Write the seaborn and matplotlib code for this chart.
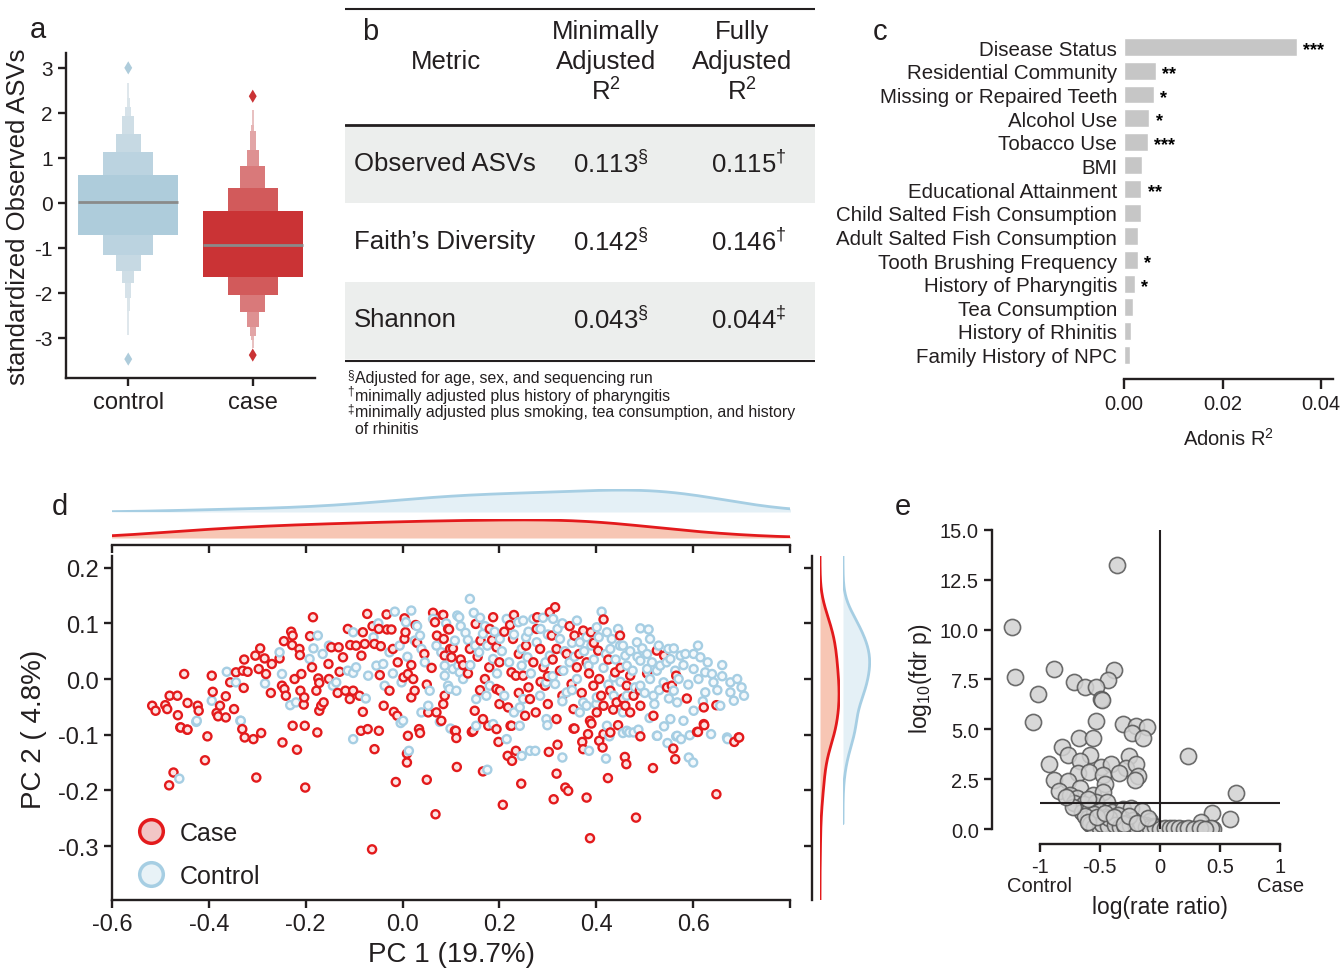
import numpy as np
import pandas as pd
import seaborn as sns
import matplotlib.pyplot as plt
from matplotlib.lines import Line2D

# ---------------- panel a: standardized observed ASVs (sorted samples, 129 per group)
asv_control = [
    -3.47, -2.41, -2.11, -1.95, -1.79, -1.72, -1.65, -1.58, -1.52,
    -1.47, -1.42, -1.37, -1.32, -1.27, -1.23, -1.19, -1.16,
    -1.13, -1.10, -1.07, -1.04, -1.01, -0.98, -0.95, -0.92, -0.89, -0.86, -0.84, -0.82, -0.80, -0.77, -0.75,
    -0.72,
    -0.69, -0.67, -0.65, -0.62, -0.60, -0.58, -0.55, -0.53, -0.51, -0.48, -0.46, -0.44, -0.41, -0.39, -0.37,
    -0.35, -0.32, -0.30, -0.28, -0.25, -0.23, -0.21, -0.18, -0.16, -0.14, -0.12, -0.10, -0.08, -0.05, -0.03, -0.01,
    0.015,
    0.04, 0.06, 0.08, 0.10, 0.12, 0.14, 0.16, 0.18, 0.20, 0.22, 0.24, 0.26, 0.28, 0.30, 0.32, 0.34,
    0.36, 0.38, 0.40, 0.42, 0.44, 0.46, 0.48, 0.50, 0.52, 0.54, 0.55, 0.57, 0.58, 0.60, 0.61,
    0.63,
    0.66, 0.69, 0.72, 0.75, 0.78, 0.81, 0.84, 0.87, 0.90, 0.93, 0.96, 0.99, 1.03, 1.06, 1.09,
    1.12,
    1.17, 1.22, 1.27, 1.32, 1.37, 1.42, 1.47,
    1.52, 1.62, 1.73, 1.84, 1.94, 2.03, 2.12, 2.33, 3.00,
]
asv_case = [
    -3.38, -3.05, -2.96, -2.86, -2.76, -2.67, -2.58, -2.50, -2.42,
    -2.37, -2.32, -2.27, -2.22, -2.17, -2.13, -2.09, -2.05,
    -2.02, -1.99, -1.96, -1.94, -1.91, -1.88, -1.86, -1.83, -1.80, -1.78, -1.75, -1.72, -1.70, -1.68, -1.66,
    -1.64,
    -1.62, -1.60, -1.58, -1.56, -1.53, -1.51, -1.49, -1.47, -1.45, -1.42, -1.40, -1.38, -1.36, -1.34, -1.31,
    -1.29, -1.27, -1.25, -1.23, -1.20, -1.18, -1.16, -1.14, -1.12, -1.09, -1.07, -1.05, -1.03, -1.01, -0.99, -0.96,
    -0.94,
    -0.92, -0.89, -0.87, -0.85, -0.82, -0.80, -0.78, -0.75, -0.73, -0.71, -0.68, -0.66, -0.64, -0.61, -0.59,
    -0.57, -0.54, -0.52, -0.50, -0.47, -0.45, -0.43, -0.40, -0.38, -0.36, -0.33, -0.31, -0.29, -0.26, -0.24, -0.21,
    -0.19,
    -0.16, -0.13, -0.09, -0.06, -0.03, 0.00, 0.04, 0.07, 0.10, 0.13, 0.17, 0.20, 0.24, 0.27, 0.31,
    0.34,
    0.40, 0.46, 0.52, 0.58, 0.65, 0.71, 0.77,
    0.83, 0.91, 1.00, 1.09, 1.17, 1.38, 1.59, 1.74, 2.37,
]

# ---------------- panel b: table
metrics = ["Observed ASVs", "Faith\u2019s Diversity", "Shannon"]
min_adj = ["0.113", "0.142", "0.043"]
min_mark = [r"\S", r"\S", r"\S"]
full_adj = ["0.115", "0.146", "0.044"]
full_mark = [r"\dagger", r"\dagger", r"\ddagger"]
note_marks = ["\u00a7", "\u2020", "\u2021", ""]
footnotes = [
    "Adjusted for age, sex, and sequencing run",
    "minimally adjusted plus history of pharyngitis",
    "minimally adjusted plus smoking, tea consumption, and history",
    "of rhinitis",
]

# ---------------- panel c: adonis R2
factors = ["Disease Status", "Residential Community", "Missing or Repaired Teeth",
           "Alcohol Use", "Tobacco Use", "BMI", "Educational Attainment",
           "Child Salted Fish Consumption", "Adult Salted Fish Consumption",
           "Tooth Brushing Frequency", "History of Pharyngitis", "Tea Consumption",
           "History of Rhinitis", "Family History of NPC"]
adonis_r2 = [0.0351, 0.0064, 0.0060, 0.0051, 0.0048, 0.0037, 0.0035,
             0.0034, 0.0029, 0.0028, 0.0022, 0.0018, 0.0014, 0.0012]
stars = ["***", "**", "*", "*", "***", "", "**", "", "", "*", "*", "", "", ""]

# ---------------- panel d: PCoA (PC1, PC2)
case_pc = [
    (-0.517, -0.048), (-0.510, -0.057), (-0.490, -0.047), (-0.486, -0.054), (-0.481, -0.030), (-0.465, -0.030),
    (-0.464, -0.065), (-0.444, -0.043), (-0.423, -0.048), (-0.421, -0.057), (-0.458, -0.087), (-0.444, -0.091),
    (-0.451, 0.009), (-0.394, 0.006), (-0.392, -0.023), (-0.384, -0.061), (-0.381, -0.067), (-0.377, -0.048),
    (-0.365, -0.031), (-0.365, -0.069), (-0.348, -0.054), (-0.356, -0.006), (-0.344, 0.012), (-0.330, 0.015),
    (-0.320, 0.013), (-0.328, -0.016), (-0.327, 0.035), (-0.304, 0.042), (-0.294, 0.055), (-0.297, 0.018),
    (-0.285, 0.037), (-0.282, 0.009), (-0.270, 0.027), (-0.272, -0.025), (-0.254, 0.037), (-0.249, -0.012),
    (-0.244, -0.018), (-0.241, -0.030), (-0.230, 0.085), (-0.227, 0.078), (-0.228, 0.061), (-0.245, 0.068),
    (-0.213, 0.054), (-0.212, 0.043), (-0.223, 0.000), (-0.209, 0.009), (-0.211, -0.021), (-0.203, -0.033),
    (-0.204, -0.046), (-0.185, 0.111), (-0.191, 0.077), (-0.187, 0.021), (-0.174, 0.001), (-0.178, -0.021),
    (-0.172, -0.007), (-0.168, -0.048), (-0.172, -0.057), (-0.163, -0.042), (-0.153, 0.027), (-0.152, 0.000),
    (-0.147, 0.057), (-0.132, 0.057), (-0.130, 0.013), (-0.134, -0.025), (-0.123, 0.039), (-0.108, 0.061),
    (-0.113, 0.090), (-0.102, -0.021), (-0.118, -0.021), (-0.109, -0.036), (-0.096, 0.060), (-0.082, 0.084),
    (-0.078, 0.063), (-0.085, 0.042), (-0.082, -0.059), (-0.089, -0.030), (-0.073, 0.117), (-0.062, 0.095),
    (-0.058, 0.063), (-0.045, 0.059), (-0.049, 0.090), (-0.047, 0.007), (-0.039, -0.048), (-0.033, 0.116),
    (-0.032, 0.089), (-0.023, 0.089), (-0.020, 0.054), (-0.027, -0.021), (-0.018, -0.059), (-0.011, -0.066),
    (0.004, 0.109), (0.006, 0.084), (0.004, 0.072), (0.002, 0.003), (0.011, 0.009), (0.018, 0.025),
    (0.022, 0.000), (0.025, -0.021), (0.018, -0.033), (0.027, 0.097), (0.053, -0.060), (0.063, 0.119),
    (0.067, 0.102), (0.071, 0.078), (0.084, 0.115), (0.094, 0.090), (0.070, -0.060), (0.080, -0.075),
    (0.084, -0.045), (0.098, 0.054), (0.101, 0.039), (0.087, -0.030),
    (0.083, 0.115), (0.096, 0.089), (0.085, 0.072), (0.104, 0.055), (0.087, 0.042), (0.125, 0.025),
    (0.139, 0.054), (0.151, 0.099), (0.161, 0.069), (0.187, 0.111), (0.180, 0.090), (0.179, 0.021),
    (0.194, 0.057), (0.194, -0.018), (0.201, -0.021), (0.222, 0.097), (0.230, 0.115), (0.228, 0.072),
    (0.225, 0.012), (0.234, 0.006), (0.249, 0.006), (0.260, -0.015), (0.263, -0.036), (0.278, 0.111),
    (0.277, 0.090), (0.284, 0.054), (0.291, 0.021), (0.294, -0.012), (0.304, 0.120), (0.315, 0.129),
    (0.308, 0.078), (0.318, 0.054), (0.339, 0.045), (0.349, -0.009), (0.353, -0.054), (0.355, 0.078),
    (0.360, 0.021), (0.373, 0.087), (0.389, 0.084), (0.380, 0.030), (0.394, -0.012), (0.404, 0.051),
    (0.406, 0.000), (0.415, 0.107), (0.415, -0.048), (0.401, -0.060), (0.429, -0.021), (0.439, 0.012),
    (0.449, 0.078), (0.442, -0.042), (0.460, -0.048), (0.463, -0.012), (0.470, 0.006), (0.477, -0.030),
    (0.491, -0.048), (0.518, -0.066), (0.525, 0.051), (0.540, 0.042), (0.546, -0.015), (0.556, -0.012),
    (0.565, 0.006), (0.587, -0.035), (0.622, -0.051), (0.648, -0.047), (0.353, -0.089), (0.387, -0.075),
    (0.429, -0.096), (0.608, -0.095), (0.622, -0.081), (0.694, -0.105), (0.149, -0.057), (0.166, -0.072),
    (0.218, -0.051), (0.225, -0.084), (0.253, -0.066), (0.318, -0.072), (0.146, -0.093), (0.108, -0.093),
    (-0.459, -0.087), (-0.445, -0.091), (-0.403, -0.103), (-0.408, -0.146), (-0.473, -0.168), (-0.482, -0.191),
    (-0.331, -0.090), (-0.326, -0.105), (-0.308, -0.108), (-0.292, -0.097), (-0.302, -0.177), (-0.248, -0.114),
    (-0.227, -0.084), (-0.218, -0.127), (-0.202, -0.084), (-0.201, -0.195), (-0.176, -0.096), (-0.086, -0.093),
    (-0.072, -0.090), (-0.049, -0.093), (-0.058, -0.126), (-0.063, -0.306), (-0.014, -0.185), (0.009, -0.150),
    (0.011, -0.102), (0.009, -0.134), (0.036, -0.097), (0.034, -0.090), (0.050, -0.181), (0.068, -0.243),
    (0.110, -0.093), (0.111, -0.106), (0.112, -0.158), (0.143, -0.095), (0.166, -0.166), (0.177, -0.084),
    (0.194, -0.090), (0.198, -0.113), (0.207, -0.226), (0.217, -0.138), (0.226, -0.147), (0.234, -0.129),
    (0.245, -0.188), (0.223, -0.084), (0.302, -0.131), (0.312, -0.216), (0.318, -0.170), (0.320, -0.118),
    (0.336, -0.195), (0.342, -0.201), (0.355, -0.089), (0.371, -0.113), (0.373, -0.126), (0.380, -0.213),
    (0.383, -0.099), (0.387, -0.286), (0.390, -0.080), (0.406, -0.111), (0.413, -0.123), (0.415, -0.099),
    (0.424, -0.178), (0.445, -0.083), (0.459, -0.140), (0.462, -0.153), (0.482, -0.249), (0.491, -0.103),
    (0.517, -0.160), (0.559, -0.125), (0.563, -0.144), (0.610, -0.095), (0.623, -0.083), (0.648, -0.207),
    (0.685, -0.113), (0.695, -0.105),
    (0.120, 0.035), (0.135, 0.010), (0.155, 0.040), (0.170, 0.000), (0.185, 0.070), (0.200, 0.030),
    (0.210, 0.085), (0.240, 0.045), (0.255, 0.060), (0.270, 0.030), (0.285, -0.005), (0.300, 0.005),
    (0.310, 0.035), (0.325, 0.015), (0.330, -0.030), (0.345, 0.095), (0.365, 0.045), (0.370, -0.025),
    (0.385, 0.010), (0.395, 0.065), (0.410, -0.030), (0.425, 0.035), (0.435, -0.055), (0.450, 0.020),
    (0.455, -0.035), (0.470, -0.060), (0.490, -0.020), (0.505, 0.010), (0.160, -0.020), (0.200, -0.045),
    (0.240, -0.025), (0.275, -0.060), (0.300, -0.045), (0.045, 0.045), (0.060, 0.020), (0.030, 0.065),
    (-0.010, 0.030), (0.050, -0.010),
]
control_pc = [
    (-0.425, -0.075), (-0.394, -0.039), (-0.363, 0.013), (-0.344, -0.006), (-0.334, -0.075), (-0.284, -0.008),
    (-0.254, 0.048), (-0.249, 0.009), (-0.232, -0.047), (-0.220, -0.042), (-0.192, 0.036), (-0.175, 0.078),
    (-0.184, 0.055), (-0.165, 0.045), (-0.152, 0.060), (-0.144, -0.012), (-0.137, -0.006), (-0.113, 0.015),
    (-0.102, 0.011), (-0.096, 0.021), (-0.102, 0.084), (-0.076, -0.035), (-0.071, 0.006), (-0.060, 0.075),
    (-0.054, 0.024), (-0.040, 0.027), (-0.037, -0.012), (-0.027, 0.048), (-0.016, 0.121), (-0.006, 0.060),
    (-0.002, -0.006), (0.001, -0.075), (0.007, 0.102), (0.018, 0.123), (0.025, 0.069), (0.036, 0.078),
    (0.039, 0.054), (0.046, 0.030), (0.056, -0.021), (0.063, 0.108), (0.080, 0.048), (0.087, 0.024),
    (0.094, -0.012), (0.108, 0.069), (0.113, 0.114), (0.115, 0.024), (0.111, -0.021), (0.053, -0.048),
    (0.039, -0.060),
    (0.139, 0.144), (0.117, 0.111), (0.147, 0.119), (0.130, 0.083), (0.166, 0.081), (0.158, 0.048),
    (0.187, 0.036), (0.201, 0.072), (0.215, 0.108), (0.239, 0.102), (0.249, 0.105), (0.246, 0.054),
    (0.246, 0.024), (0.258, 0.039), (0.270, 0.108), (0.277, 0.066), (0.304, 0.042), (0.311, 0.108),
    (0.325, 0.072), (0.315, -0.009), (0.332, 0.015), (0.339, -0.024), (0.360, 0.105), (0.366, 0.066),
    (0.384, 0.024), (0.373, -0.042), (0.411, 0.121), (0.401, 0.093), (0.422, 0.084), (0.432, 0.072),
    (0.429, 0.054), (0.449, 0.060), (0.460, 0.042), (0.436, 0.003), (0.463, 0.024), (0.484, 0.066),
    (0.491, 0.091), (0.508, 0.089), (0.511, 0.072), (0.491, 0.033), (0.505, 0.018), (0.511, 0.000),
    (0.529, 0.060), (0.532, 0.024), (0.539, -0.006), (0.549, 0.054), (0.553, 0.036), (0.563, 0.015),
    (0.574, 0.042), (0.584, 0.045), (0.601, 0.045), (0.615, 0.039), (0.601, 0.018), (0.611, 0.000),
    (0.625, 0.012), (0.639, 0.009), (0.642, -0.006), (0.660, 0.025), (0.677, -0.006), (0.691, 0.000),
    (0.677, -0.024), (0.684, -0.039), (0.625, -0.024), (0.601, -0.057), (0.656, -0.048), (0.560, -0.021),
    (0.567, -0.042), (0.553, -0.072), (0.518, -0.030), (0.491, -0.012), (0.463, -0.030), (0.436, -0.030),
    (0.401, -0.033), (0.380, -0.048), (0.366, -0.060), (0.297, -0.006), (0.284, -0.030), (0.249, -0.036),
    (0.242, -0.051), (0.180, -0.012), (0.173, -0.030), (0.152, -0.036), (0.118, 0.012), (0.104, 0.018),
    (0.087, 0.006), (0.097, -0.018), (0.187, -0.081), (0.242, -0.084), (0.297, -0.072), (0.463, -0.093),
    (0.477, -0.096), (0.525, -0.102), (0.567, -0.102), (0.670, -0.105), (0.215, -0.108), (0.422, -0.084),
    (-0.461, -0.179), (-0.426, -0.077), (-0.335, -0.075), (-0.102, -0.108), (-0.004, -0.079), (0.013, -0.129),
    (0.077, -0.077), (0.099, -0.089), (0.152, -0.084), (0.175, -0.163), (0.246, -0.138), (0.263, -0.129),
    (0.274, -0.129), (0.299, -0.083), (0.330, -0.141), (0.385, -0.129), (0.420, -0.143), (0.427, -0.103),
    (0.455, -0.097), (0.468, -0.096), (0.487, -0.091), (0.526, -0.102), (0.547, -0.115), (0.565, -0.103),
    (0.575, -0.108), (0.593, -0.101), (0.591, -0.141), (0.600, -0.150), (0.637, -0.099), (0.671, -0.108),
    (0.120, 0.095), (0.135, 0.070), (0.150, 0.060), (0.170, 0.095), (0.190, 0.085), (0.205, 0.050),
    (0.220, 0.030), (0.230, 0.080), (0.255, 0.075), (0.265, 0.010), (0.285, 0.090), (0.295, 0.030),
    (0.300, 0.080), (0.320, 0.090), (0.335, 0.050), (0.345, 0.030), (0.350, 0.065), (0.360, 0.000),
    (0.375, 0.050), (0.390, 0.060), (0.395, 0.035), (0.405, 0.075), (0.415, 0.020), (0.420, 0.045),
    (0.425, -0.010), (0.440, 0.035), (0.445, 0.090), (0.450, -0.005), (0.455, 0.060), (0.470, 0.050),
    (0.475, 0.015), (0.480, -0.015), (0.485, 0.040), (0.495, 0.055), (0.500, -0.025), (0.505, 0.045),
    (0.515, 0.030), (0.520, -0.045), (0.525, 0.015), (0.530, -0.020), (0.545, 0.030), (0.550, -0.035),
    (0.560, 0.055), (0.570, 0.000), (0.580, 0.025), (0.590, -0.010), (0.610, 0.060), (0.620, -0.040),
    (0.630, 0.030), (0.650, -0.020), (0.660, 0.005), (0.700, -0.015), (0.705, -0.030), (0.330, -0.040),
    (0.350, -0.020), (0.400, -0.045), (0.455, -0.060), (0.510, -0.070), (0.540, -0.085), (0.580, -0.075),
    (-0.050, 0.100), (-0.020, 0.010), (0.010, 0.040), (0.030, 0.095), (0.070, 0.060), (0.090, 0.100),
    (0.100, 0.040), (0.125, 0.000), (0.140, 0.025), (0.160, 0.110), (0.175, 0.060), (0.195, 0.010),
    (0.210, -0.030), (0.230, -0.060), (0.260, 0.085), (0.290, 0.110), (0.310, 0.005), (0.330, 0.100),
    (0.355, 0.040), (0.380, 0.075),
]

# ---------------- panel e: volcano
log_rate_ratio = [
    -0.36, -1.23, -1.20, -0.88, -0.38, -0.43, -0.71, -0.62, -0.53, -0.49, -0.48, -1.01, -1.05, -0.53,
    -0.31, -0.20, -0.11, -0.23, -0.14, -0.67, -0.56, -0.81, -0.76, -0.58, -0.26, 0.23, -0.92, -0.66,
    -0.49, -0.41, -0.28, -0.20, -0.68, -0.59, -0.47, -0.34, -0.18, -0.21, -0.88, -0.76, -0.46, -0.84,
    -0.66, 0.63, -0.75, -0.69, -0.56, -0.47, -0.71, -0.63, -0.53, -0.44, -0.65, -0.58, -0.50, -0.40,
    -0.31, -0.24, -0.15, 0.43, 0.58, 0.34, -0.56, -0.47, -0.39, -0.31, -0.22, -0.08, -0.51, -0.45,
    -0.40, -0.35, -0.31, -0.27, -0.22, -0.18, -0.14, -0.10, -0.06, -0.02, 0.02, 0.06, 0.10, 0.14,
    0.18, 0.21, 0.25, 0.40, 0.44, 0.42, -0.60, -0.55, -0.62, -0.52, -0.58, -0.45, -0.35, -0.28,
    -0.12, -0.05, -0.72, -0.78, -0.60,
    -0.55, -0.50, -0.48, -0.43, -0.42, -0.37, -0.33, -0.29, -0.25, -0.20, -0.16, -0.12, -0.08, -0.04,
    0.00, 0.04, 0.08, 0.12, 0.16, 0.20, 0.23, -0.60, -0.52, -0.46, -0.38, -0.30, -0.26, -0.19, -0.10,
    0.28, 0.33, 0.37,
]
log10_fdr = [
    13.22, 10.15, 7.65, 8.05, 8.00, 7.46, 7.36, 7.13, 7.13, 6.54, 6.48, 6.79, 5.38, 5.44,
    5.29, 5.18, 5.13, 4.84, 4.57, 4.57, 4.57, 4.12, 3.71, 3.71, 3.67, 3.67, 3.24, 3.41,
    3.12, 3.24, 3.04, 3.24, 2.80, 2.85, 2.72, 2.80, 2.64, 2.47, 2.45, 2.39, 2.27, 1.90,
    2.04, 1.79, 1.70, 1.54, 1.70, 1.87, 1.30, 1.25, 1.34, 1.37, 0.87, 1.00, 0.92, 0.87,
    1.00, 1.03, 0.92, 0.80, 0.50, 0.33, 0.42, 0.33, 0.42, 0.50, 0.47, 0.42, 0.03, 0.02,
    0.00, 0.01, 0.00, 0.02, 0.00, 0.01, 0.00, 0.02, 0.00, 0.01, 0.00, 0.01, 0.00, 0.02,
    0.00, 0.01, 0.00, 0.02, 0.00, 0.03, 0.55, 0.75, 0.65, 0.20, 0.25, 0.60, 0.70, 0.30,
    0.20, 0.15, 1.10, 1.60, 1.50,
    0.10, 0.05, 0.25, 0.15, 0.55, 0.20, 0.10, 0.12, 0.20, 0.15, 0.25, 0.10, 0.05, 0.08,
    0.02, 0.05, 0.03, 0.06, 0.04, 0.02, 0.05, 0.35, 0.60, 0.80, 0.60, 0.25, 0.65, 0.30, 0.55,
    0.02, 0.03, 0.02,
]
fdr_threshold = 1.3

RED = "#e31a1c"
BLUE = "#a6cee3"
INK = "#231f20"
W, H = 1344, 970

sns.set_theme(style="ticks")
plt.rcParams.update({
    "font.family": ["Liberation Sans", "DejaVu Sans"],
    "axes.unicode_minus": False,
    "mathtext.fontset": "custom",
    "mathtext.rm": "Liberation Sans",
    "mathtext.it": "Liberation Sans:italic",
    "mathtext.bf": "Liberation Sans:bold",
    "axes.linewidth": 1.7,
    "axes.edgecolor": INK,
    "xtick.major.width": 1.7,
    "ytick.major.width": 1.7,
    "xtick.major.size": 6,
    "ytick.major.size": 6,
    "xtick.color": INK,
    "ytick.color": INK,
    "text.color": INK,
    "axes.labelcolor": INK,
})

fig = plt.figure(figsize=(W / 100, H / 100), dpi=100)


def rect(left, top, right, bottom):
    return [left / W, 1 - bottom / H, (right - left) / W, (bottom - top) / H]


# ======== a
ax_a = fig.add_axes(rect(66, 54, 315, 379))
df_a = pd.DataFrame({
    "group": ["control"] * len(asv_control) + ["case"] * len(asv_case),
    "value": asv_control + asv_case,
})
for grp, col in [("control", BLUE), ("case", RED)]:
    sns.boxenplot(data=df_a[df_a.group == grp], x="group", y="value", order=["control", "case"],
                  color=col, k_depth=7, width=0.8, linewidth=0,
                  line_kws=dict(color="#8a8a8a", linewidth=2),
                  flier_kws=dict(marker="d", s=45, facecolor=sns.desaturate(col, 0.75), edgecolor="none"),
                  ax=ax_a)
ax_a.set_xlim(-0.5, 1.5)
ax_a.set_ylim(-3.89, 3.33)
ax_a.set_yticks([-3, -2, -1, 0, 1, 2, 3])
ax_a.set_xlabel("")
ax_a.set_ylabel("standardized Observed ASVs", fontsize=18.5, labelpad=3)
ax_a.tick_params(axis="y", labelsize=15)
ax_a.tick_params(axis="x", labelsize=17)
sns.despine(ax=ax_a)

# ======== b
ax_b = fig.add_axes(rect(345, 0, 815, 450))
ax_b.set_xlim(0, 470)
ax_b.set_ylim(450, 0)
ax_b.axis("off")
for i in (0, 2):
    ax_b.fill_between([0, 470], 127 + 78 * i, 204 + 78 * i, color="#eceeed", linewidth=0)
ax_b.plot([0, 470], [10, 10], color=INK, lw=1.5)
ax_b.plot([0, 470], [126, 126], color=INK, lw=2)
ax_b.plot([0, 470], [362, 362], color=INK, lw=1.5)
hdr = dict(fontsize=18.5, ha="center", va="center")
ax_b.text(101, 62, "Metric", **hdr)
for cx, word in [(261, "Minimally"), (397, "Fully")]:
    ax_b.text(cx, 32, word, **hdr)
    ax_b.text(cx, 62, "Adjusted", **hdr)
    ax_b.text(cx, 92, "R$^{2}$", **hdr)
for i, m in enumerate(metrics):
    y = 164 + 78 * i
    ax_b.text(9, y, m, fontsize=18.5, ha="left", va="center")
    ax_b.text(228, y, min_adj[i] + "$^{" + min_mark[i] + "}$", fontsize=18.5, ha="left", va="center")
    ax_b.text(366, y, full_adj[i] + "$^{" + full_mark[i] + "}$", fontsize=18.5, ha="left", va="center")
for i, (mark, note) in enumerate(zip(note_marks, footnotes)):
    y = 379 + 17 * i
    if mark:
        ax_b.text(2, y - 4, mark, fontsize=8.5, ha="left", va="center")
    ax_b.text(10, y, note, fontsize=11.4, ha="left", va="center")

# ======== c
ax_c = fig.add_axes(rect(1124, 34, 1333, 380))
sns.barplot(x=adonis_r2, y=factors, color="#c6c6c6", saturation=1, width=0.76, orient="h", ax=ax_c)
for i, (v, s) in enumerate(zip(adonis_r2, stars)):
    if s:
        ax_c.text(v + 0.0013, i + 0.12, s, fontsize=13, fontweight="bold", ha="left", va="center", color="black")
ax_c.set_xlim(0, 0.0424)
ax_c.set_ylim(14.03, -0.6)
ax_c.set_xticks([0, 0.02, 0.04])
ax_c.set_xticklabels(["0.00", "0.02", "0.04"])
ax_c.tick_params(axis="x", labelsize=14.5, length=7)
ax_c.tick_params(axis="y", labelsize=14.8, length=0, pad=5)
ax_c.set_xlabel("Adonis R$^{2}$", fontsize=14.5, labelpad=10)
ax_c.set_ylabel("")
sns.despine(ax=ax_c, left=True)

# ======== d
df_d = pd.DataFrame(case_pc + control_pc, columns=["pc1", "pc2"])
df_d["status"] = ["Case"] * len(case_pc) + ["Control"] * len(control_pc)
df_d = df_d.sort_values("pc1", kind="stable")
ax_d = fig.add_axes(rect(112, 557, 790, 901))
sns.scatterplot(data=df_d, x="pc1", y="pc2", hue="status", palette={"Case": RED, "Control": BLUE},
                s=34, linewidth=0, legend=False, ax=ax_d)
pts = ax_d.collections[-1]
edge = pts.get_facecolors()
pts.set_edgecolors(edge)
light = edge.copy()
light[:, :3] = edge[:, :3] * 0.12 + 0.88
pts.set_facecolors(light)
pts.set_linewidths(1.7)
ax_d.set_xlim(-0.6, 0.8)
ax_d.set_ylim(-0.397, 0.221)
xt = [-0.6, -0.4, -0.2, 0.0, 0.2, 0.4, 0.6, 0.8]
ax_d.set_xticks(xt)
ax_d.set_xticklabels([f"{t:.1f}" for t in xt[:-1]] + [""])
yt = [-0.3, -0.2, -0.1, 0.0, 0.1, 0.2]
ax_d.set_yticks(yt)
ax_d.set_yticklabels([f"{t:.1f}" for t in yt])
ax_d.tick_params(labelsize=17)
ax_d.set_xlabel("PC 1 (19.7%)", fontsize=20, labelpad=4)
ax_d.set_ylabel("PC 2 ( 4.8%)", fontsize=20, labelpad=8)
sns.despine(ax=ax_d)

handles = [Line2D([], [], ls="", marker="o", ms=17, mfc="#f2c6c6", mec=RED, mew=2.5),
           Line2D([], [], ls="", marker="o", ms=17, mfc="#e8f2f7", mec=BLUE, mew=2.5)]
ax_d.legend(handles, ["Case", "Control"], loc="lower left", bbox_to_anchor=(0.006, 0.006),
            frameon=False, fontsize=18, handletextpad=0.15, labelspacing=0.75, borderaxespad=0.0)

case_x = [p[0] for p in case_pc]
case_y = [p[1] for p in case_pc]
ctrl_x = [p[0] for p in control_pc]
ctrl_y = [p[1] for p in control_pc]

# top marginals
ax_tc = fig.add_axes(rect(112, 490, 790, 513))
sns.kdeplot(x=ctrl_x, ax=ax_tc, fill=True, color="#e4f0f6", alpha=1, linewidth=0, bw_adjust=1.3)
sns.kdeplot(x=ctrl_x, ax=ax_tc, color=BLUE, linewidth=2, bw_adjust=1.3)
ax_tk = fig.add_axes(rect(112, 520, 790, 539))
sns.kdeplot(x=case_x, ax=ax_tk, fill=True, color="#f7c6b4", alpha=1, linewidth=0, bw_adjust=1.3)
sns.kdeplot(x=case_x, ax=ax_tk, color=RED, linewidth=2, bw_adjust=1.3)
for ax in (ax_tc, ax_tk):
    ax.set_xlim(-0.6, 0.8)
    ax.set_ylim(0, ax.get_ylim()[1])
    ax.set_yticks([])
    ax.set_ylabel("")
    ax.set_xlabel("")
    ax.patch.set_alpha(0)
    sns.despine(ax=ax, left=True)
ax_tc.axis("off")
ax_tk.set_xticks(xt)
ax_tk.tick_params(axis="x", labelbottom=False)
ax_tk.spines["bottom"].set_position(("outward", 5))

# right marginals
ax_rk = fig.add_axes(rect(820, 557, 840, 901))
sns.kdeplot(y=case_y, ax=ax_rk, fill=True, color="#f7c6b4", alpha=1, linewidth=0, bw_adjust=1.2)
sns.kdeplot(y=case_y, ax=ax_rk, color=RED, linewidth=2, bw_adjust=1.2)
ax_rc = fig.add_axes(rect(843, 557, 871, 901))
sns.kdeplot(y=ctrl_y, ax=ax_rc, fill=True, color="#e4f0f6", alpha=1, linewidth=0, bw_adjust=1.2)
sns.kdeplot(y=ctrl_y, ax=ax_rc, color=BLUE, linewidth=2, bw_adjust=1.2)
for ax in (ax_rk, ax_rc):
    ax.set_ylim(-0.397, 0.221)
    ax.set_xlim(0, ax.get_xlim()[1])
    ax.set_xticks([])
    ax.set_xlabel("")
    ax.set_ylabel("")
    ax.patch.set_alpha(0)
    sns.despine(ax=ax, bottom=True)
ax_rc.axis("off")
ax_rk.set_yticks(yt)
ax_rk.tick_params(axis="y", labelleft=False)
ax_rk.spines["left"].set_position(("outward", 6))

# ======== e
ax_e = fig.add_axes(rect(1003, 525, 1300, 832))
sns.scatterplot(x=log_rate_ratio, y=log10_fdr, s=135, color="#d2d2d2", edgecolor="#555555",
                linewidth=1.2, alpha=0.85, ax=ax_e)
ax_e.vlines(0, 0, 15, color=INK, lw=1.5)
ax_e.hlines(fdr_threshold, -1, 1, color=INK, lw=1.5)
ax_e.set_xlim(-1.303, 1.162)
ax_e.set_ylim(-0.1, 15.3)
ax_e.set_yticks([0, 2.5, 5, 7.5, 10, 12.5, 15])
ax_e.set_yticklabels(["0.0", "2.5", "5.0", "7.5", "10.0", "12.5", "15.0"])
ax_e.set_xticks([-1, -0.5, 0, 0.5, 1])
ax_e.set_xticklabels(["-1", "-0.5", "0", "0.5", "1"])
ax_e.tick_params(labelsize=14.5)
sns.despine(ax=ax_e)
ax_e.spines["left"].set_position(("outward", 8))
ax_e.spines["bottom"].set_position(("outward", 9))
ax_e.spines["left"].set_bounds(0, 15)
ax_e.spines["bottom"].set_bounds(-1, 1)
ax_e.set_ylabel("log$_{10}$(fdr p)", fontsize=16.5, labelpad=4)
ax_e.set_xlabel("log(rate ratio)", fontsize=16.5)
ax_e.xaxis.set_label_coords((1160 - 1003) / 297, (832 - 896) / 307)
fig.text(1040 / W, 1 - 887 / H, "Control", fontsize=14.5, ha="center", va="center")
fig.text(1281 / W, 1 - 887 / H, "Case", fontsize=14.5, ha="center", va="center")

# panel letters
for (px, py, lab) in [(38, 30, "a"), (370, 32, "b"), (880, 32, "c"), (60, 507, "d"), (903, 507, "e")]:
    fig.text(px / W, 1 - py / H, lab, fontsize=21, ha="center", va="center")

fig.savefig("out.png", dpi=100)
